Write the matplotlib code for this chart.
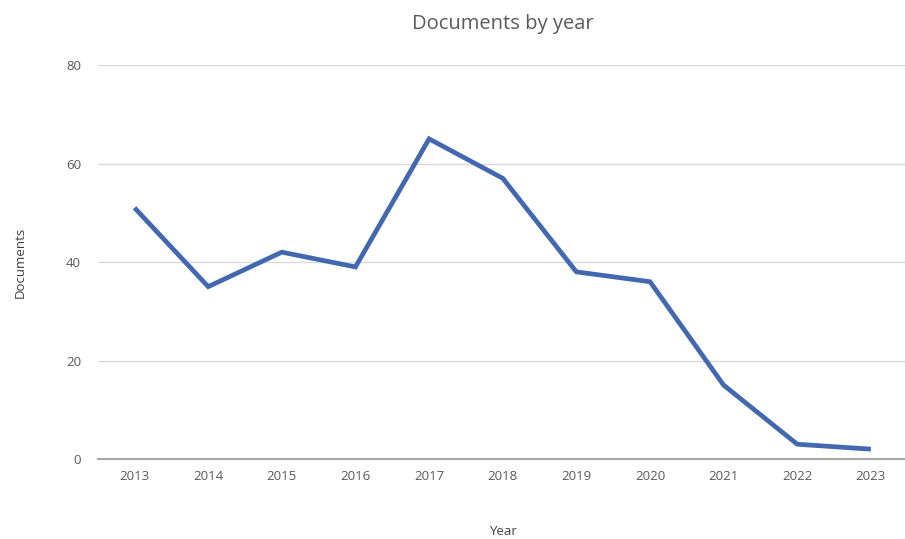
import matplotlib
matplotlib.use('Agg')
import matplotlib.pyplot as plt

# data
years = ['2013', '2014', '2015', '2016', '2017', '2018',
         '2019', '2020', '2021', '2022', '2023']
documents = [51, 35, 42, 39, 65, 57, 38, 36, 15, 3, 2]
y_ticks = [0, 20, 40, 60, 80]

plt.rcParams['font.family'] = ['Open Sans', 'DejaVu Sans']
text_grey = '#595959'

fig = plt.figure(figsize=(9.05, 5.39), dpi=100)
ax = fig.add_axes([0.108, 0.1484, 0.895, 0.731])

x = list(range(len(years)))
ax.plot(x, documents, color='#4268b0', lw=3.4, solid_joinstyle='miter',
        solid_capstyle='butt', zorder=3)

ax.set_xlim(-0.5, len(years) - 0.5)
ax.set_ylim(0, 80)
ax.set_yticks(y_ticks)
ax.set_xticks(x)
ax.set_xticklabels(years)
ax.yaxis.grid(True, color='#d9d9d9', lw=1)
ax.set_axisbelow(True)
for s in ['top', 'right', 'left']:
    ax.spines[s].set_visible(False)
ax.spines['bottom'].set_color('#a6a6a6')
ax.spines['bottom'].set_linewidth(1.5)
ax.tick_params(length=0, labelsize=9.5, labelcolor=text_grey)
ax.tick_params(axis='x', pad=8)
ax.tick_params(axis='y', pad=12)

ax.set_title('Documents by year', fontsize=14.5, color=text_grey, pad=26)
ax.set_xlabel('Year', fontsize=9.5, color='#404040', labelpad=30)
ax.set_ylabel('Documents', fontsize=9.5, color='#404040', labelpad=28)

fig.savefig('out.png', dpi=100)
